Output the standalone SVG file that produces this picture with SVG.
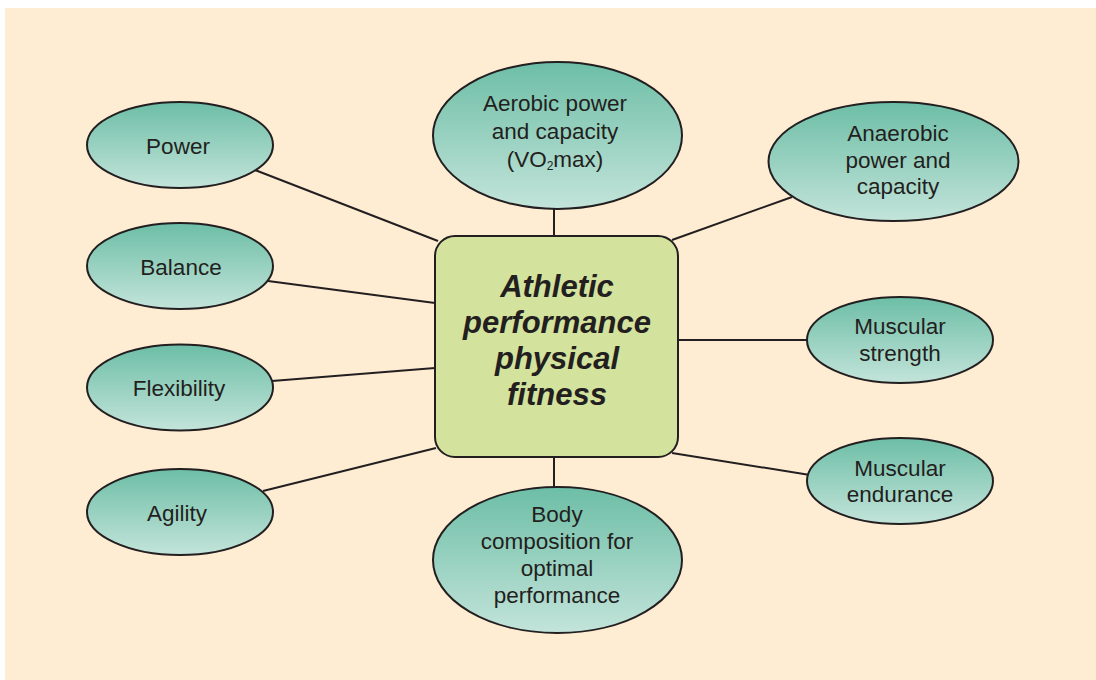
<svg xmlns="http://www.w3.org/2000/svg" width="1096" height="680" viewBox="0 0 1096 680">
<defs>
<linearGradient id="g" x1="0" y1="0" x2="0" y2="1">
<stop offset="0" stop-color="#6dbea6"/>
<stop offset="1" stop-color="#c3e4da"/>
</linearGradient>
<style>
.e{fill:url(#g);stroke:#231f20;stroke-width:2}
.t{font-family:"Liberation Sans",Arial,sans-serif;font-size:22.5px;fill:#231f20;text-anchor:middle}
.c{font-family:"Liberation Sans",Arial,sans-serif;font-size:31px;font-weight:bold;font-style:italic;fill:#231f20;text-anchor:middle}
.l{stroke:#231f20;stroke-width:2;fill:none}
</style>
</defs>
<rect x="0" y="0" width="1096" height="680" fill="#ffffff"/>
<rect x="5" y="8" width="1091" height="672" fill="#feedd3"/>
<g id="connectors">
<line class="l" x1="255" y1="170" x2="438" y2="241"/>
<line class="l" x1="268" y1="281" x2="435" y2="303"/>
<line class="l" x1="272" y1="381" x2="435" y2="368"/>
<line class="l" x1="263" y1="491" x2="436" y2="448"/>
<line class="l" x1="554" y1="209" x2="554" y2="236"/>
<line class="l" x1="792" y1="197" x2="672" y2="240"/>
<line class="l" x1="678" y1="340" x2="808" y2="340"/>
<line class="l" x1="672" y1="453" x2="810" y2="475"/>
<line class="l" x1="554" y1="457" x2="554" y2="487"/>
</g>
<g id="center">
<rect x="435" y="236" width="243" height="221" rx="20" fill="#d3e29c" stroke="#231f20" stroke-width="2"/>
<text class="c"><tspan x="557" y="297">Athletic</tspan><tspan x="557" y="333">performance</tspan><tspan x="557" y="369">physical</tspan><tspan x="557" y="405">fitness</tspan></text>
</g>
<g id="power">
<ellipse class="e" cx="180" cy="145" rx="93" ry="43"/>
<text class="t" x="178" y="154">Power</text>
</g>
<g id="balance">
<ellipse class="e" cx="180" cy="266" rx="93" ry="43"/>
<text class="t" x="181" y="275">Balance</text>
</g>
<g id="flexibility">
<ellipse class="e" cx="180" cy="387.5" rx="93" ry="43"/>
<text class="t" x="179" y="396">Flexibility</text>
</g>
<g id="agility">
<ellipse class="e" cx="180" cy="512" rx="93" ry="43"/>
<text class="t" x="177" y="521">Agility</text>
</g>
<g id="aerobic">
<ellipse class="e" cx="557.5" cy="135.5" rx="124.5" ry="73.5"/>
<text class="t"><tspan x="555" y="111">Aerobic power</tspan><tspan x="555" y="139">and capacity</tspan><tspan x="555" y="167">(VO<tspan font-size="12" dy="3">2</tspan><tspan dy="-3">max)</tspan></tspan></text>
</g>
<g id="anaerobic">
<ellipse class="e" cx="893.5" cy="161.5" rx="125" ry="59.5"/>
<text class="t"><tspan x="898" y="141">Anaerobic</tspan><tspan x="898" y="168">power and</tspan><tspan x="898" y="194">capacity</tspan></text>
</g>
<g id="strength">
<ellipse class="e" cx="900" cy="340" rx="93" ry="43"/>
<text class="t"><tspan x="900" y="334">Muscular</tspan><tspan x="900" y="361">strength</tspan></text>
</g>
<g id="endurance">
<ellipse class="e" cx="900" cy="481" rx="93" ry="43"/>
<text class="t"><tspan x="900" y="476">Muscular</tspan><tspan x="900" y="502">endurance</tspan></text>
</g>
<g id="body">
<ellipse class="e" cx="557.5" cy="560" rx="124.5" ry="73"/>
<text class="t"><tspan x="557" y="522">Body</tspan><tspan x="557" y="549">composition for</tspan><tspan x="557" y="576">optimal</tspan><tspan x="557" y="603">performance</tspan></text>
</g>
</svg>
